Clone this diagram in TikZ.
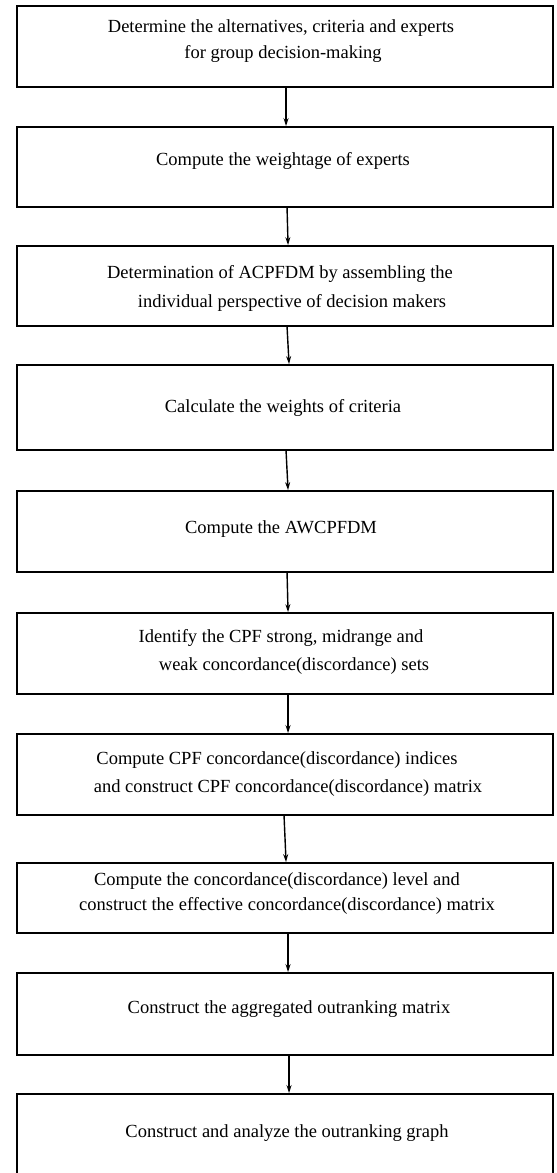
\documentclass[tikz,border=0pt]{standalone}
\usepackage{fontspec}
\setmainfont{Liberation Serif}
\usetikzlibrary{arrows.meta}
\tikzset{
  box/.style={draw, line width=1.8pt, rectangle, minimum width=536.3pt, inner sep=0pt},
  lbl/.style={anchor=base, inner sep=0pt, font=\fontsize{18.5}{22}\selectfont},
  arr/.style={line width=1.4pt, -{Stealth[length=8pt,width=5pt]}}
}
\begin{document}
\begin{tikzpicture}[x=1pt,y=-1pt]
\useasboundingbox (0,0) rectangle (557,1173);
\node[box, minimum height=81pt] (b1) at (284.85,46.5) {};
\node[box, minimum height=80pt] (b2) at (284.85,167) {};
\node[box, minimum height=80pt] (b3) at (284.85,286) {};
\node[box, minimum height=85pt] (b4) at (284.85,407.5) {};
\node[box, minimum height=81pt] (b5) at (284.85,531.5) {};
\node[box, minimum height=81pt] (b6) at (284.85,653.5) {};
\node[box, minimum height=81pt] (b7) at (284.85,774.5) {};
\node[box, minimum height=70pt] (b8) at (284.85,898) {};
\node[box, minimum height=82pt] (b9) at (284.85,1014) {};
\node[box, minimum height=90pt] (b10) at (284.85,1139) {};

\node[lbl] (t1a) at (281,32) {Determine the alternatives, criteria and experts};
\node[lbl] (t1b) at (283,58) {for group decision-making};
\node[lbl] (t2) at (283,165) {Compute the weightage of experts};
\node[lbl] (t3a) at (280,278) {Determination of ACPFDM by assembling the};
\node[lbl] (t3b) at (292,307) {individual perspective of decision makers};
\node[lbl] (t4) at (283,412) {Calculate the weights of criteria};
\node[lbl] (t5) at (281,533) {Compute the AWCPFDM};
\node[lbl] (t6a) at (281,642) {Identify the CPF strong, midrange and};
\node[lbl] (t6b) at (294,670) {weak concordance(discordance) sets};
\node[lbl] (t7a) at (277,764) {Compute CPF concordance(discordance) indices};
\node[lbl] (t7b) at (288,792) {and construct CPF concordance(discordance) matrix};
\node[lbl] (t8a) at (277,885) {Compute the concordance(discordance) level and};
\node[lbl] (t8b) at (287,910) {construct the effective concordance(discordance) matrix};
\node[lbl] (t9) at (289,1013) {Construct the aggregated outranking matrix};
\node[lbl] (t10) at (287,1137) {Construct and analyze the outranking graph};

\draw[arr] ([xshift=1.2pt]b1.south) -- ([xshift=1.2pt]b2.north);
\draw[arr] ([xshift=2.2pt]b2.south) -- ([xshift=3.2pt]b3.north);
\draw[arr] ([xshift=2.2pt]b3.south) -- ([xshift=4.2pt]b4.north);
\draw[arr] ([xshift=1.2pt]b4.south) -- ([xshift=3.2pt]b5.north);
\draw[arr] ([xshift=2.2pt]b5.south) -- ([xshift=3.2pt]b6.north);
\draw[arr] ([xshift=3.2pt]b6.south) -- ([xshift=3.2pt]b7.north);
\draw[arr] ([xshift=-0.8pt]b7.south) -- ([xshift=1.2pt]b8.north);
\draw[arr] ([xshift=3.2pt]b8.south) -- ([xshift=3.2pt]b9.north);
\draw[arr] ([xshift=4.2pt]b9.south) -- ([xshift=4.2pt]b10.north);
\end{tikzpicture}
\end{document}
